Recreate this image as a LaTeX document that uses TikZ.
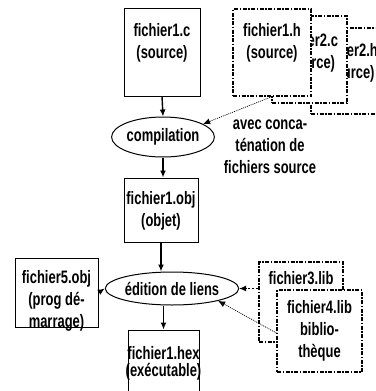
\documentclass[tikz,border=0pt]{standalone}
\usepackage{fontspec}
\setmainfont{Liberation Sans}[FakeStretch=0.72]
\usetikzlibrary{shapes.geometric,arrows.meta}
\tikzset{
  box/.style={draw, line width=1pt, fill=white, inner sep=0pt},
  dbox/.style={box, line width=1.2pt, dash pattern=on 4pt off 1.5pt on 1.5pt off 1.5pt},
  txt/.style={align=center, inner sep=0pt, anchor=north, font=\fontsize{18pt}{22pt}\selectfont\bfseries},
  ell/.style={draw, ellipse, line width=1pt, fill=white, inner sep=0pt, font=\fontsize{18pt}{22pt}\selectfont\bfseries},
  arr/.style={line width=1.4pt, -{Latex[length=7pt,width=6pt]}},
  darr/.style={line width=0.9pt, dash pattern=on 2.5pt off 1.5pt, -{Latex[length=7pt,width=6pt]}},
  oarr/.style={line width=0.7pt, dash pattern=on 1pt off 1pt, -{Latex[length=7pt,width=6pt]}}
}
\begin{document}
\begin{tikzpicture}[x=1pt,y=-1pt]
\clip (0,0) rectangle (375,391);
\fill[white] (0,0) rectangle (375,391);
% top source files
\node[box, minimum width=76pt, minimum height=88pt] (fc) at (162,52) {};
\node[txt] (fct) at (162,23) {fichier1.c\\(source)};
\node[dbox, minimum width=76pt, minimum height=86pt] (f2h) at (349,71) {};
\node[txt] (f2ht) at (349,43) {fichier2.h\\(source)};
\node[dbox, minimum width=75pt, minimum height=87pt] (f2c) at (309.5,59.5) {};
\node[txt] (f2ct) at (309.5,33) {fichier2.c\\(source)};
\node[dbox, minimum width=78pt, minimum height=87pt] (f1h) at (272,52.5) {};
\node[txt] (f1ht) at (272,23) {fichier1.h\\(source)};
% compilation
\node[ell, minimum width=78pt, minimum height=40pt] (comp) at (163,137) {compilation};
\node[txt] (avec) at (270,120) {avec conca-\\ténation de\\fichiers source};
% object
\node[box, minimum width=74pt, minimum height=64pt] (obj) at (161,210) {};
\node[txt] (objt) at (161,191) {fichier1.obj\\(objet)};
% link edition
\node[ell, minimum width=110pt, minimum height=33pt] (edit) at (172,288.5) {édition de liens};
\node[box, minimum width=83pt, minimum height=69pt] (f5) at (56.5,292.5) {};
\node[txt] (f5t) at (56.5,270) {fichier5.obj\\(prog dé-\\marrage)};
\node[dbox, minimum width=84pt, minimum height=80pt] (f3) at (301,302) {};
\node[txt] (f3t) at (301,271) {fichier3.lib};
\node[dbox, minimum width=85pt, minimum height=82pt] (f4) at (319.5,331) {};
\node[txt] (f4t) at (319.5,300) {fichier4.lib\\biblio-\\thèque};
\node[box, minimum width=71pt, minimum height=64pt] (hex) at (163.5,362) {};
\node[txt] (hext) at (163.5,346) {fichier1.hex\\[-5pt](exécutable)};
% connectors
\draw[arr] (fc.south) -- (comp.north);
\draw[arr] (comp.south) -- (comp.south |- obj.north);
\draw[arr] (obj.south) -- (obj.south |- edit.north);
\draw[arr] (edit.south -| hex.north) -- (hex.north);
\draw[arr] (f5.east) -- (edit.west);
\draw[darr] (f3.west |- edit.east) -- (edit.east);
\draw[oarr] ([yshift=-2pt]f4.west) -- (edit.-15);
\draw[oarr] (f1h.south) -- (comp.18);
\end{tikzpicture}
\end{document}
